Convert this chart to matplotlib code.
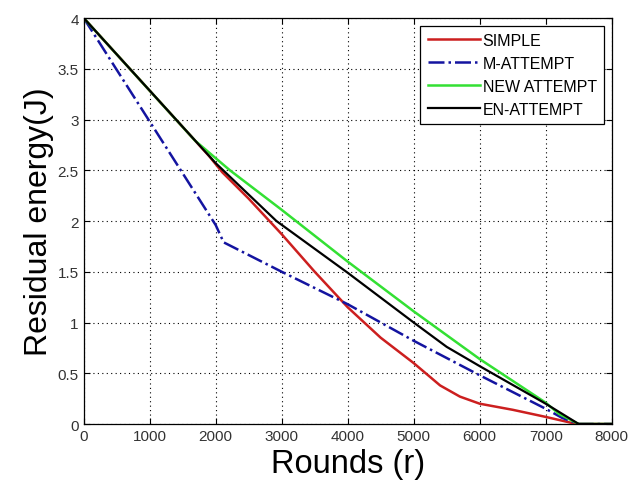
import matplotlib.pyplot as plt

plt.rcParams['font.family'] = ['Liberation Sans', 'DejaVu Sans']

# data
simple_x = [0, 1900, 2100, 2500, 3000, 3500, 4000, 4500, 5000, 5400, 5700, 6000,
            6500, 7000, 7400, 7500, 8000]
simple_y = [4.0, 2.64, 2.48, 2.22, 1.87, 1.5, 1.15, 0.85, 0.6, 0.38, 0.27, 0.2,
            0.14, 0.07, 0.01, 0.0, 0.0]

m_x = [0, 2000, 2120, 3000, 4000, 5000, 6000, 7000, 7250, 7500, 8000]
m_y = [4.0, 1.96, 1.79, 1.5, 1.18, 0.82, 0.48, 0.15, 0.06, 0.0, 0.0]

new_x = [0, 1690, 2215, 3000, 4000, 5000, 6000, 7000, 7200, 7500, 8000]
new_y = [4.0, 2.79, 2.5, 2.11, 1.6, 1.11, 0.64, 0.21, 0.1, 0.0, 0.0]

en_x = [0, 2000, 2920, 4000, 5000, 5500, 6000, 7000, 7500, 8000]
en_y = [4.0, 2.57, 2.0, 1.49, 1.0, 0.76, 0.57, 0.2, 0.0, 0.0]

labels = ['SIMPLE', 'M-ATTEMPT', 'NEW ATTEMPT', 'EN-ATTEMPT']
x_ticks = [0, 1000, 2000, 3000, 4000, 5000, 6000, 7000, 8000]
y_ticks = [0, 0.5, 1, 1.5, 2, 2.5, 3, 3.5, 4]
y_tick_labels = ['0', '0.5', '1', '1.5', '2', '2.5', '3', '3.5', '4']

fig = plt.figure(figsize=(6.36, 4.85), dpi=100)
ax = fig.add_axes([0.1316, 0.1237, 0.8302, 0.8371])

ax.plot(simple_x, simple_y, color='#cc1f1f', lw=1.8, label=labels[0])
ax.plot(m_x, m_y, color='#1414a0', lw=1.8, ls='-.', label=labels[1])
ax.plot(new_x, new_y, color='#33e033', lw=1.8, label=labels[2])
ax.plot(en_x, en_y, color='black', lw=1.6, label=labels[3])

ax.set_xlim(0, 8000)
ax.set_ylim(0, 4)
ax.set_xticks(x_ticks)
ax.set_yticks(y_ticks)
ax.set_yticklabels(y_tick_labels)
ax.tick_params(direction='in', top=True, right=True, labelsize=11,
               labelcolor='#333333', length=4)
ax.grid(True, ls=(0, (1, 3)), color='black', lw=0.8)
for s in ax.spines.values():
    s.set_linewidth(0.9)

ax.set_xlabel('Rounds (r)', fontsize=23.5, labelpad=4)
ax.set_ylabel('Residual energy(J)', fontsize=23, labelpad=3)

leg = ax.legend(loc='upper right', fontsize=11.5, fancybox=False, framealpha=1,
                edgecolor='black', handlelength=3.3, handletextpad=0.15,
                borderpad=0.45, labelspacing=0.5, borderaxespad=0.48)
leg.get_frame().set_linewidth(0.9)

plt.savefig('out.png', dpi=100)
plt.close()
